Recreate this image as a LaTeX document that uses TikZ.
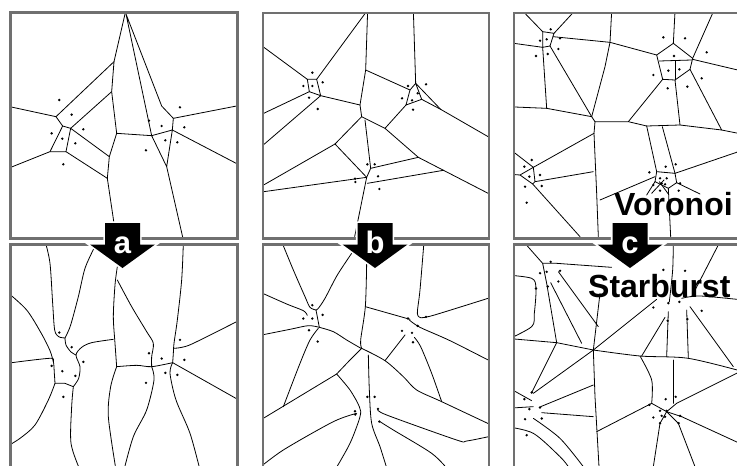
\documentclass[tikz,border=0pt]{standalone}
\usepackage{fontspec}
\setmainfont{Liberation Sans}
\definecolor{panelgray}{RGB}{112,112,112}
\begin{document}
\begin{tikzpicture}[x=1pt,y=-1pt,
  vline/.style={line width=0.8pt,black,line join=round,line cap=round},
  panel/.style={draw=panelgray,line width=2.7pt},
  darrow/.style={fill=black,preaction={draw=white,line width=3.4pt}},
  bigword/.style={font=\fontsize{32}{32}\selectfont\bfseries,inner sep=0pt},
  arrowlab/.style={font=\fontsize{31}{31}\selectfont\bfseries,text=white,inner sep=0pt,anchor=base},
  seed/.style={fill=black}]
\useasboundingbox[fill=white] (0,0) rectangle (737,466);

% ---------------- column a, Voronoi ----------------
\begin{scope}
\clip (10.5,12.5) rectangle (237.5,238.5);
\begin{scope}[x=0.33333pt,y=-0.33333pt]
\draw[vline] (375,42) -- (342,185) -- (335,275) -- (350,400) -- (328,470) -- (322,535) -- (345,690);
\draw[vline] (378,42) -- (485,318) -- (520,355) -- (517,390) -- (455,407) -- cycle;
\draw[vline] (455,407) -- (350,400);
\draw[vline] (520,355) -- (720,316);
\draw[vline] (517,390) -- (720,496);
\draw[vline] (517,390) -- (500,500) -- (455,407);
\draw[vline] (500,500) -- (550,720);
\draw[vline] (342,185) -- (168,350) -- (20,318);
\draw[vline] (168,350) -- (188,378) -- (212,385) -- (335,275);
\draw[vline] (212,385) -- (328,470);
\draw[vline] (188,378) -- (150,455) -- (20,507);
\draw[vline] (150,455) -- (198,455) -- (212,385);
\draw[vline] (198,455) -- (322,535);
\foreach \x/\y in {178/300,215/344,250/388,155/400,187/416,226/430,190/493,
  540/322,447/362,485/378,553/382,496/421,532/427,438/451}
  \fill[seed] (\x,\y) circle[radius=4];
\end{scope}
\end{scope}

% ---------------- column a, Starburst ----------------
\begin{scope}
\clip (10.5,244.5) rectangle (237.5,475);
\begin{scope}[yshift=-230pt,x=0.33333pt,y=-0.33333pt]
\draw[vline] plot[smooth] coordinates {(137,40) (150,100) (158,220) (164,300) (176,320) (195,324)};
\draw[vline] plot[smooth] coordinates {(282,55) (255,115) (235,200) (212,285) (198,318) (195,324)};
\draw[vline] plot[smooth] coordinates {(195,324) (198,345) (213,366) (228,375)};
\draw[vline] plot[smooth] coordinates {(340,328) (275,338) (245,352) (228,375) (240,410) (236,445) (220,470)};
\draw[vline] plot[smooth] coordinates {(20,185) (80,240) (125,312) (150,362) (160,395)};
\draw[vline] plot[smooth] coordinates {(20,400) (148,385) (160,395) (163,430) (165,460)};
\draw[vline] (165,460) -- (195,460) -- (220,470);
\draw[vline] plot[smooth] coordinates {(165,460) (145,510) (105,585) (60,625) (20,650)};
\draw[vline] plot[smooth] coordinates {(220,470) (215,530) (213,640) (240,720)};
\draw[vline] plot[smooth] coordinates {(352,110) (345,165) (340,260) (345,340) (350,410)};
\draw[vline] plot[smooth] coordinates {(350,410) (332,470) (325,560) (348,720)};
\draw[vline] plot[smooth] coordinates {(352,150) (395,230) (440,305) (460,340) (455,380) (455,410)};
\draw[vline] plot[smooth] coordinates {(350,410) (410,406) (455,410) (518,398)};
\draw[vline] plot[smooth] coordinates {(455,410) (462,450) (440,540) (400,620) (372,720)};
\draw[vline] plot[smooth] coordinates {(550,40) (545,150) (532,270) (522,340) (520,370) (518,398)};
\draw[vline] plot[smooth] coordinates {(522,355) (545,352) (580,340) (720,270)};
\draw[vline] (518,398) -- (720,512);
\draw[vline] plot[smooth] coordinates {(518,398) (510,430) (528,510) (570,610) (600,720)};
\begin{scope}[yshift=-2.5pt]
\foreach \x/\y in {178/300,215/344,250/388,155/400,187/416,226/430,190/493,
  540/322,447/362,485/378,553/382,496/421,532/427,438/451}
  \fill[seed] (\x,\y) circle[radius=4];
\end{scope}
\end{scope}
\end{scope}

% ---------------- column b, Voronoi ----------------
\begin{scope}
\clip (263,13) rectangle (489,238.5);
\begin{scope}[xshift=250pt,x=0.33333pt,y=-0.33333pt]
\draw[vline] (353,30) -- (200,238);
\draw[vline] (353,30) -- (347,210) -- (330,315) -- (335,350);
\draw[vline] (347,210) -- (480,270);
\draw[vline] (172,238) -- (200,238) -- (212,287) -- (178,275) -- cycle;
\draw[vline] (172,238) -- (20,126);
\draw[vline] (178,275) -- (20,350);
\draw[vline] (212,287) -- (330,315);
\draw[vline] (212,287) -- (20,452);
\draw[vline] (335,350) -- (255,432) -- (20,567);
\draw[vline] (255,432) -- (350,532);
\draw[vline] (335,350) -- (405,385) -- (468,315);
\draw[vline] (405,385) -- (505,472) -- (730,588);
\draw[vline] (345,360) -- (362,505);
\draw[vline] (20,578) -- (350,532) -- (362,505) -- (505,472);
\draw[vline] (350,532) -- (314,710);
\draw[vline] (352,550) -- (580,511);
\draw[vline] (490,30) -- (497,250);
\draw[vline] (480,270) -- (497,250) -- (515,298) -- (468,315) -- cycle;
\draw[vline] (497,250) -- (572,328);
\draw[vline] (515,298) -- (572,328) -- (730,419);
\foreach \x/\y in {187/218,160/258,187/258,218/247,177/293,203/327,
  474/258,528/253,503/280,456/295,486/301,489/329,
  352/493,374/493,384/529,315/536,316/546,388/567}
  \fill[seed] (\x,\y) circle[radius=4];
\end{scope}
\end{scope}

% ---------------- column b, Starburst ----------------
\begin{scope}
\clip (263,244.5) rectangle (489,475);
\begin{scope}[xshift=250pt,yshift=-230pt,x=0.33333pt,y=-0.33333pt]
\draw[vline] plot[smooth] coordinates {(95,35) (130,120) (165,200) (180,232) (198,240)};
\draw[vline] plot[smooth] coordinates {(305,70) (262,135) (225,205) (205,235) (198,240)};
\draw[vline] plot[smooth] coordinates {(20,182) (110,222) (160,242) (172,256)};
\draw[vline] plot[smooth] coordinates {(20,318) (120,298) (175,287) (208,292)};
\draw[vline] (198,240) -- (208,292);
\draw[vline] plot[smooth] coordinates {(208,292) (250,305) (290,330) (333,355)};
\draw[vline] plot[smooth] coordinates {(205,295) (180,330) (150,400) (100,530)};
\draw[vline] plot[smooth] coordinates {(350,100) (346,230) (332,330) (335,355)};
\draw[vline] (346,230) -- (480,268);
\draw[vline] plot[smooth] coordinates {(335,355) (300,390) (260,432)};
\draw[vline] (260,432) -- (20,577);
\draw[vline] plot[smooth] coordinates {(260,432) (300,480) (328,530) (330,560) (300,640) (255,720)};
\draw[vline] plot[smooth] coordinates {(335,355) (405,392) (460,440) (500,480) (575,515) (730,588)};
\draw[vline] (405,392) -- (465,315);
\draw[vline] plot[smooth] coordinates {(355,375) (358,480) (365,580) (390,650) (412,720)};
\draw[vline] plot[smooth] coordinates {(522,35) (510,180) (502,250) (512,263)};
\draw[vline] plot[smooth] coordinates {(512,263) (550,256) (730,200)};
\draw[vline] plot[smooth] coordinates {(478,270) (510,292) (600,332) (730,398)};
\draw[vline] plot[smooth] coordinates {(493,322) (512,350) (545,430) (575,515)};
\draw[vline] plot[smooth] coordinates {(383,538) (410,555) (620,630) (650,633) (730,617)};
\draw[vline] plot[smooth] coordinates {(390,575) (430,600) (545,670) (595,720)};
\draw[vline] plot[smooth] coordinates {(320,550) (250,575) (100,660) (20,720)};
\begin{scope}[yshift=-2.5pt]
\foreach \x/\y in {187/218,160/258,187/258,218/247,177/293,203/327,
  474/258,528/253,503/280,456/295,486/301,489/329,
  352/493,374/493,384/529,315/536,316/546,388/567}
  \fill[seed] (\x,\y) circle[radius=4];
\end{scope}
\end{scope}
\end{scope}

% ---------------- column c, Voronoi ----------------
\begin{scope}
\clip (514,13) rectangle (745,238.5);
\begin{scope}[xshift=500pt,x=0.33333pt,y=-0.33333pt]
\draw[vline] (70,35) -- (128,95);
\draw[vline] (222,35) -- (162,100);
\draw[vline] (128,95) -- (162,100) -- (150,138) -- (128,142) -- cycle;
\draw[vline] (20,127) -- (128,142);
\draw[vline] (128,142) -- (140,325);
\draw[vline] (150,138) -- (275,350);
\draw[vline] (159,110) -- (330,127);
\draw[vline] (330,127) -- (335,35);
\draw[vline] (330,127) -- (470,165);
\draw[vline] (330,127) -- (315,200) -- (275,350);
\draw[vline] (20,320) -- (140,325) -- (275,350) -- (285,365);
\draw[vline] (285,365) -- (385,365) -- (440,378);
\draw[vline] (285,365) -- (282,400) -- (290,580) -- (295,710);
\draw[vline] (282,400) -- (100,502);
\draw[vline] (60,525) -- (100,502) -- (105,545) -- (98,552) -- cycle;
\draw[vline] (20,440) -- (100,502);
\draw[vline] (20,522) -- (60,525);
\draw[vline] (105,545) -- (280,515);
\draw[vline] (98,552) -- (240,710);
\draw[vline] (470,165) -- (520,130) -- (578,175) -- (570,208) -- (525,240) -- (488,238) -- cycle;
\draw[vline] (478,183) -- (575,180);
\draw[vline] (525,183) -- (525,240);
\draw[vline] (520,130) -- (525,35);
\draw[vline] (578,175) -- (640,35);
\draw[vline] (578,178) -- (730,214);
\draw[vline] (570,208) -- (665,390);
\draw[vline] (525,240) -- (540,375);
\draw[vline] (488,238) -- (385,365);
\draw[vline] (440,378) -- (540,375) -- (665,390) -- (730,403);
\draw[vline] (440,378) -- (470,515);
\draw[vline] (487,380) -- (525,520);
\draw[vline] (470,515) -- (525,520) -- (530,548) -- (505,565) -- (465,545) -- cycle;
\draw[vline] (525,520) -- (730,450);
\draw[vline] (300,600) -- (465,530);
\draw[vline] (530,548) -- (600,582);
\draw[vline] (505,565) -- (512,710);
\draw[vline] (465,545) -- (440,585);
\draw[vline] (455,580) -- (492,540);
\draw[vline] (478,545) -- (505,582);
\foreach \x/\y in {152/88,120/122,140/118,180/115,175/147,108/168,143/162,
  490/112,555/115,620/157,522/168,505/212,538/208,460/225,605/235,503/265,562/260,
  95/480,73/500,88/530,120/525,75/560,125/558,80/608,
  497/500,527/493,448/517,480/535,500/535,485/550,495/553,460/555,540/550,480/572,536/572}
  \fill[seed] (\x,\y) circle[radius=4];
\end{scope}
\end{scope}

% ---------------- column c, Starburst ----------------
\begin{scope}
\clip (514,244.5) rectangle (745,475);
\begin{scope}[xshift=500pt,yshift=-230pt,x=0.33333pt,y=-0.33333pt]
\draw[vline] plot[smooth] coordinates {(75,40) (112,82) (128,100)};
\draw[vline] (128,100) -- (170,100) -- (335,112);
\draw[vline] (128,100) -- (140,160) -- (170,338);
\draw[vline] (152,158) -- (245,340);
\draw[vline] (175,125) -- (295,290);
\draw[vline] plot[smooth] coordinates {(20,135) (95,145) (108,175) (103,250) (95,290) (20,330)};
\draw[vline] (20,325) -- (170,338) -- (280,360);
\draw[vline] (280,360) -- (300,190);
\draw[vline] (280,360) -- (470,208);
\draw[vline] plot[smooth] coordinates {(280,360) (420,378) (565,385) (730,425)};
\draw[vline] plot[smooth] coordinates {(420,378) (455,450) (455,520)};
\draw[vline] (280,360) -- (100,490);
\draw[vline] (170,338) -- (95,488);
\draw[vline] (280,360) -- (285,500) -- (297,710);
\draw[vline] (280,465) -- (122,530);
\draw[vline] (125,548) -- (280,560);
\draw[vline] (20,470) -- (95,512);
\draw[vline] (20,535) -- (100,530);
\draw[vline] plot[smooth] coordinates {(100,565) (180,625) (250,710)};
\draw[vline] plot[smooth] coordinates {(20,590) (100,610) (180,680) (205,710)};
\draw[vline] (505,245) -- (500,380);
\draw[vline] (560,240) -- (565,385);
\draw[vline] (570,230) -- (700,410);
\draw[vline] (495,262) -- (425,378);
\draw[vline] plot[smooth] coordinates {(520,35) (518,120) (508,215)};
\draw[vline] plot[smooth] coordinates {(545,205) (600,198) (730,210)};
\draw[vline] (575,200) -- (660,35);
\draw[vline] (455,520) -- (290,605);
\draw[vline] (520,520) -- (520,390);
\draw[vline] (530,520) -- (730,420);
\draw[vline] (545,560) -- (730,645);
\draw[vline] (535,580) -- (585,710);
\draw[vline] (480,580) -- (460,710);
\draw[vline] (455,520) -- (500,545) -- (530,520);
\draw[vline] (500,545) -- (545,560);
\draw[vline] (500,545) -- (535,580);
\draw[vline] (500,545) -- (480,580);
\begin{scope}[yshift=-2.5pt]
\foreach \x/\y in {152/88,120/122,140/118,180/115,175/147,108/168,143/162,
  490/112,555/115,620/157,522/168,505/212,538/208,460/225,605/235,503/265,562/260,
  95/480,73/500,88/530,120/525,75/560,125/558,80/608,
  497/500,527/493,448/517,480/535,500/535,485/550,495/553,460/555,540/550,480/572,536/572}
  \fill[seed] (\x,\y) circle[radius=4];
\end{scope}
\end{scope}
\end{scope}

% ---------------- panel frames ----------------
\draw[panel] (10.5,12.5) rectangle (237.5,238.5);
\draw[panel] (263,13) rectangle (489,238.5);
\draw[panel] (514,13) rectangle (745,238.5);
\draw[panel] (10.5,244.5) rectangle (237.5,475);
\draw[panel] (263,244.5) rectangle (489,475);
\draw[panel] (514,244.5) rectangle (745,475);

% ---------------- transition arrows ----------------
\foreach \cx/\lab in {122.5/a,375/b,630/c}{
  \path[darrow] (\cx-17.5,223) -- (\cx+17.5,223) -- (\cx+17.5,244.5) -- (\cx+32.5,244.5)
    -- (\cx,268) -- (\cx-32.5,244.5) -- (\cx-17.5,244.5) -- cycle;
  \node[arrowlab] (lab\lab) at (\cx,253) {\lab};
}

% ---------------- method names ----------------
\node[bigword,anchor=base west] (vor) at (614,215) {Voronoi};
\node[bigword,anchor=base west] (star) at (588,297) {Starburst};
\end{tikzpicture}
\end{document}
